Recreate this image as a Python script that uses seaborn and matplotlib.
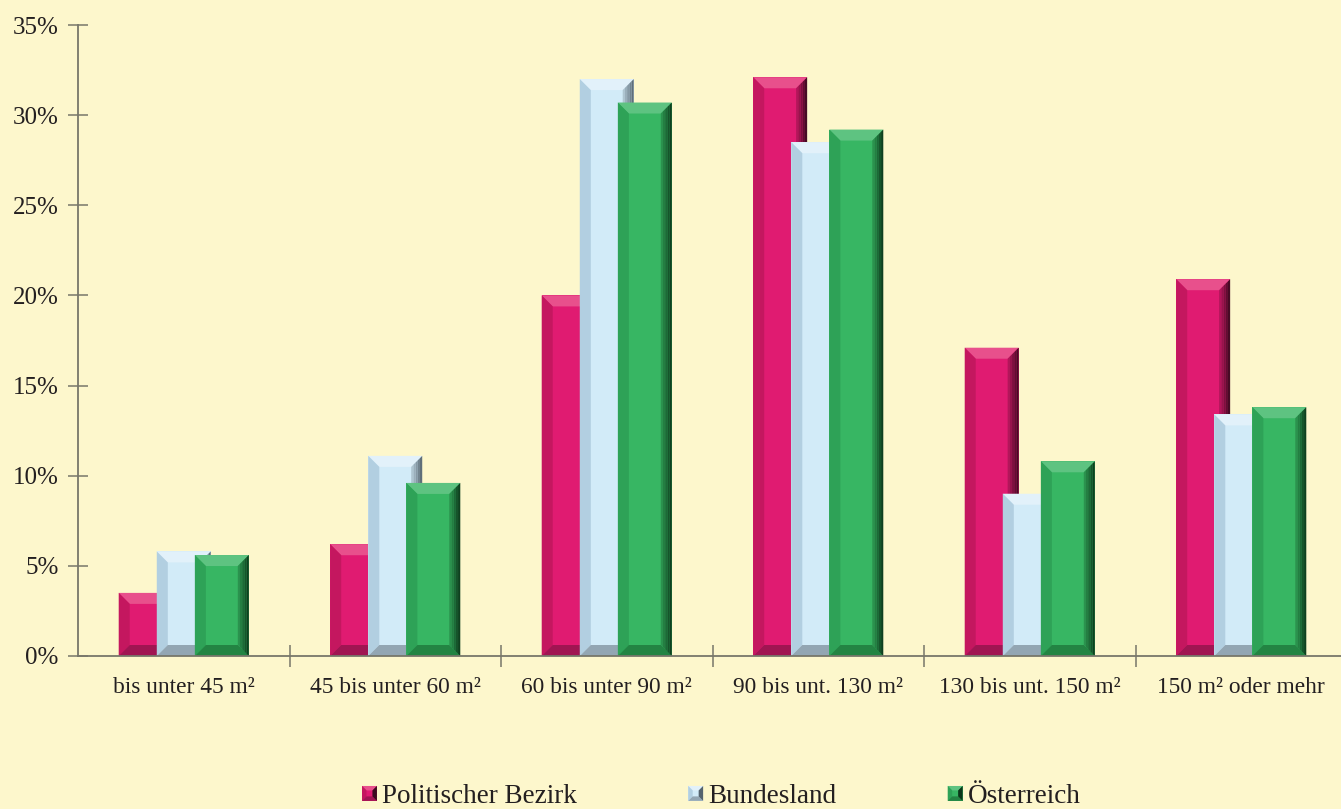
import numpy as np
import pandas as pd
import matplotlib
matplotlib.use("Agg")
import matplotlib.pyplot as plt
import seaborn as sns
from matplotlib.patches import Polygon, Rectangle
from matplotlib.legend_handler import HandlerBase
from matplotlib.colors import to_rgb

# --- data -------------------------------------------------------------
categories = ["bis unter 45 m²", "45 bis unter 60 m²", "60 bis unter 90 m²",
              "90 bis unt. 130 m²", "130 bis unt. 150 m²", "150 m² oder mehr"]
series = ["Politischer Bezirk", "Bundesland", "Österreich"]
bezirk = [3.5, 6.2, 20.0, 32.1, 17.1, 20.9]
bundesland = [5.8, 11.1, 32.0, 28.5, 9.0, 13.4]
oesterreich = [5.6, 9.6, 30.7, 29.2, 10.8, 13.8]
y_ticks = [0, 5, 10, 15, 20, 25, 30, 35]

df = pd.DataFrame({
    "Kategorie": categories * 3,
    "Serie": [series[0]] * 6 + [series[1]] * 6 + [series[2]] * 6,
    "Anteil": bezirk + bundesland + oesterreich,
})

# --- style ------------------------------------------------------------
bg = "#FDF7CC"
axis_col = "#77776a"
text_col = "#231f20"
base = {"Politischer Bezirk": "#E01B71", "Bundesland": "#D2EBF8", "Österreich": "#37B663"}
bevel = {
    "Politischer Bezirk": dict(top="#E8508C", left="#C4175F", bottom="#A01552", dark="#3A0A1E"),
    "Bundesland": dict(top="#E2F1FA", left="#B2CFE1", bottom="#93A6B3", dark="#55636E"),
    "Österreich": dict(top="#5EC381", left="#2EA257", bottom="#238443", dark="#0B3619"),
}

sns.set_theme(style="white")
plt.rcParams["font.family"] = ["Liberation Serif", "DejaVu Serif"]

fig = plt.figure(figsize=(13.41, 8.09), dpi=100, facecolor=bg)
ax = fig.add_axes([78 / 1341, 153 / 809, 1269 / 1341, 631 / 809])
ax.set_facecolor(bg)

step = 0.18        # distance between neighbouring bars of one group
bar_w = 0.255      # bar width (bars overlap slightly)
sns.barplot(data=df, x="Kategorie", y="Anteil", hue="Serie", order=categories,
            hue_order=series, palette=base, width=3 * step, saturation=1,
            linewidth=0, legend=False, ax=ax)

# pixel-to-data scale for the bevel size
px_x = 1 / 211.5
px_y = 35 / 631
bx, by = 11 * px_x, 11 * px_y


def mix(c1, c2, t):
    a, b = np.array(to_rgb(c1)), np.array(to_rgb(c2))
    return tuple(a + (b - a) * t)


def add_bevel(x0, x1, y0, y1, name, z):
    c = bevel[name]
    b_x = min(bx, (x1 - x0) / 3)
    b_y = min(by, (y1 - y0) / 3)
    kw = dict(linewidth=0, zorder=z)
    polys = [
        ([(x0, y1), (x1, y1), (x1 - b_x, y1 - b_y), (x0 + b_x, y1 - b_y)], c["top"]),
        ([(x0, y0), (x0, y1), (x0 + b_x, y1 - b_y), (x0 + b_x, y0 + b_y)], c["left"]),
        ([(x0, y0), (x1, y0), (x1 - b_x, y0 + b_y), (x0 + b_x, y0 + b_y)], c["bottom"]),
    ]
    out = [Polygon(p, closed=True, facecolor=col, **kw) for p, col in polys]
    # right edge darkens towards the outside
    n = 5
    for i in range(n):
        xa = x1 - b_x + b_x * i / n
        xb = x1 - b_x + b_x * (i + 1) / n
        fa = (xa - (x1 - b_x)) / b_x
        fb = (xb - (x1 - b_x)) / b_x
        lo = lambda f: y0 + b_y * (1 - f)
        hi = lambda f: y1 - b_y * (1 - f)
        col = mix(base[name], c["dark"], 0.2 + 0.8 * (i + 0.5) / n)
        out.append(Polygon([(xa, lo(fa)), (xa, hi(fa)), (xb, hi(fb)), (xb, lo(fb))],
                           closed=True, facecolor=col, **kw))
    for p in out:
        ax.add_patch(p)


for k, (cont, name) in enumerate(zip(ax.containers, series)):
    z = 2 + k * 0.1
    for bar in cont.patches:
        cx = bar.get_x() + bar.get_width() / 2
        bar.set_x(cx - bar_w / 2)
        bar.set_width(bar_w)
        bar.set_zorder(z)
        h = bar.get_height()
        add_bevel(cx - bar_w / 2, cx + bar_w / 2, 0, h, name, z + 0.05)

# --- axes -------------------------------------------------------------
ax.set_xlim(-0.5, 5.5)
ax.set_ylim(0, 35)
ax.set_yticks(y_ticks)
ax.set_yticklabels([f"{t}%" for t in y_ticks])
ax.set_xticks(range(len(categories)))
ax.set_xticklabels(categories)
ax.set_xticks(np.arange(0.5, 5.5, 1), minor=True)
ax.set_xlabel("")
ax.set_ylabel("")
for s in ["top", "right"]:
    ax.spines[s].set_visible(False)
for s in ["left", "bottom"]:
    ax.spines[s].set_color(axis_col)
    ax.spines[s].set_linewidth(1.3)
    ax.spines[s].set_zorder(5)
ax.tick_params(axis="y", direction="inout", length=14, width=1.1, color=axis_col,
               labelsize=18, labelcolor=text_col, pad=7, left=True)
ax.tick_params(axis="x", which="major", length=0, labelsize=16.8,
               labelcolor=text_col, pad=15)
ax.tick_params(axis="x", which="minor", direction="inout", length=16, width=1.1,
               color=axis_col, bottom=True)


# --- legend -----------------------------------------------------------
class BevelHandler(HandlerBase):
    def create_artists(self, legend, orig_handle, xdescent, ydescent, width,
                       height, fontsize, trans):
        name = orig_handle.get_label()
        s = min(width, height)
        x0 = -xdescent + (width - s) / 2
        y0 = -ydescent + (height - s) / 2
        arts = [Rectangle((x0, y0), s, s, facecolor=base[name], linewidth=0,
                          transform=trans)]
        c = bevel[name]
        b = s * 0.3
        x1, y1 = x0 + s, y0 + s
        polys = [
            ([(x0, y1), (x1, y1), (x1 - b, y1 - b), (x0 + b, y1 - b)], c["top"]),
            ([(x0, y0), (x0, y1), (x0 + b, y1 - b), (x0 + b, y0 + b)], c["left"]),
            ([(x0, y0), (x1, y0), (x1 - b, y0 + b), (x0 + b, y0 + b)], c["bottom"]),
            ([(x1, y0), (x1, y1), (x1 - b, y1 - b), (x1 - b, y0 + b)], c["dark"]),
        ]
        for p, col in polys:
            arts.append(Polygon(p, closed=True, facecolor=col, linewidth=0,
                                transform=trans))
        return arts


handles = [Rectangle((0, 0), 1, 1, label=n) for n in series]
fig.legend(handles=handles, labels=series, handler_map={Rectangle: BevelHandler()},
           loc="lower left", bbox_to_anchor=(362 / 1341, 0.0), ncol=3,
           frameon=False, fontsize=19.5, handlelength=0.55, handleheight=0.55,
           handletextpad=0.2, columnspacing=4.1, borderpad=0, borderaxespad=0,
           labelcolor=text_col)

fig.savefig("out.png", dpi=100, facecolor=bg)
